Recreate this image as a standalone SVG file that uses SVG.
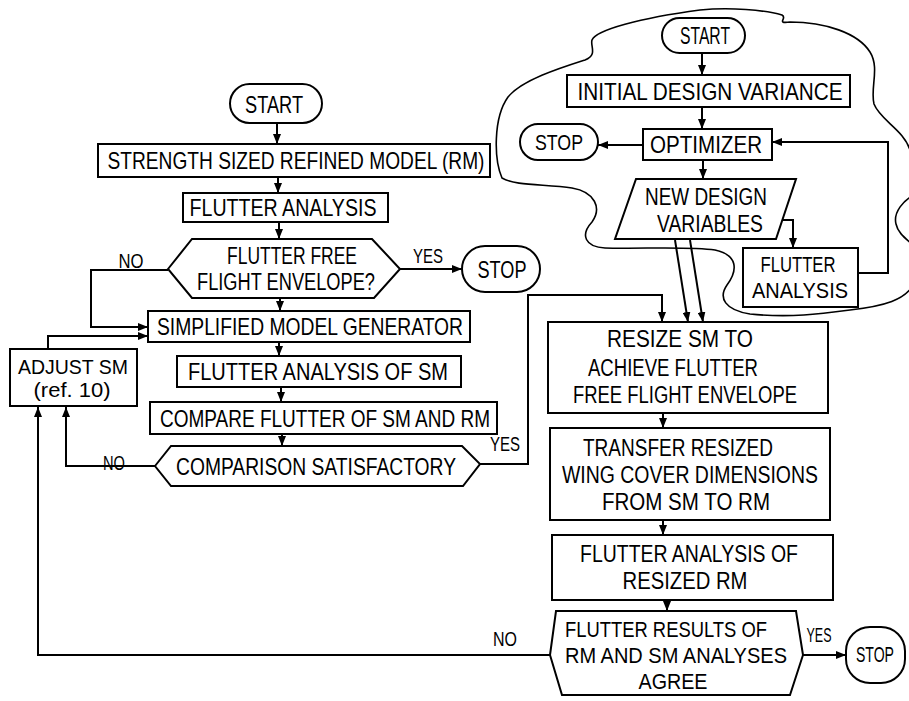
<svg xmlns="http://www.w3.org/2000/svg" width="909" height="701" viewBox="0 0 909 701">
<defs>
<marker id="ah" markerWidth="10" markerHeight="8" refX="10" refY="4" orient="auto" markerUnits="userSpaceOnUse">
<path d="M0,0 L10,4 L0,8 z" fill="#000"/>
</marker>
<style>
.b{fill:#fff;stroke:#000;stroke-width:2}
.c{fill:none;stroke:#000;stroke-width:2;marker-end:url(#ah)}
.cl{fill:none;stroke:#000;stroke-width:1.6}
text{font-family:"Liberation Sans",Arial,sans-serif;font-size:24px;fill:#000;text-anchor:middle}
.m{font-size:23px}
.r{font-size:22px}
.s{font-size:21px}
.a{font-size:20px}
</style>
</defs>
<rect width="909" height="701" fill="#fff"/>

<g id="cloud-boundary">
<path class="cl" d="M502,178 C494,160 493,118 508,97 C522,80 560,68 585,60 C598,55 590,46 592,40 C596,30 640,18 700,10 C730,7 765,10 782,15 C788,18 775,24 790,22 C825,22 858,33 870,52 C880,68 870,88 874,104 C880,120 904,130 910,150 L914,195 C904,200 893,212 896,224 C898,234 908,240 914,246 L914,284 C905,300 885,306 850,310 C820,314 790,318 750,314 C725,310 718,298 727,285 C738,270 738,255 715,250 C690,246 640,249 605,248 C585,247 580,235 592,222 C602,208 595,192 572,188 C545,184 515,186 502,178 Z"/>
</g>

<g id="connectors">
<path class="c" d="M277,123 V144"/>
<path class="c" d="M278,177 V193"/>
<path class="c" d="M279,222 V239"/>
<path class="c" d="M400,269 H462"/>
<path class="c" d="M168,270 H91 V327 H148"/>
<path class="c" d="M48,349 V336 H148"/>
<path class="c" d="M280,298 V311"/>
<path class="c" d="M279,342 V356"/>
<path class="c" d="M281,387 V402"/>
<path class="c" d="M282,434 V446"/>
<path class="c" d="M155,466 H66 V407"/>
<path class="c" d="M480,464 H528 V295 H662 V322"/>
<path class="c" d="M550,655 H38 V407"/>
<path class="c" d="M803,655 H846"/>
<path class="c" d="M702,53 V75"/>
<path class="c" d="M702,107 V129"/>
<path class="c" d="M643,145 H598"/>
<path class="c" d="M703,160 V179"/>
<path class="c" d="M782,220 H793 V248"/>
<path class="c" d="M858,273 H888 V142 H772"/>
<path class="c" d="M675,240 L688,322"/>
<path class="c" d="M690,240 L703,322"/>
<path class="c" d="M663,413 V428"/>
<path class="c" d="M663,520 V535"/>
<path class="c" d="M667,600 V611"/>
</g>

<g id="start1">
<rect class="b" x="230" y="84" width="92" height="39" rx="19.5"/>
<text x="274" y="113" textLength="58" lengthAdjust="spacingAndGlyphs">START</text>
</g>
<g id="strength-sized-rm">
<rect class="b" x="98" y="144" width="392" height="33"/>
<text x="296" y="169" textLength="377" lengthAdjust="spacingAndGlyphs">STRENGTH SIZED REFINED MODEL (RM)</text>
</g>
<g id="flutter-analysis-1">
<rect class="b" x="183" y="193" width="205" height="29"/>
<text x="283" y="216" textLength="187" lengthAdjust="spacingAndGlyphs">FLUTTER ANALYSIS</text>
</g>
<g id="decision-flutter-free">
<polygon class="b" points="168,269 192,239 372,239 400,269 374,298 192,298"/>
<text class="m" x="292" y="264" textLength="130" lengthAdjust="spacingAndGlyphs">FLUTTER FREE</text>
<text class="m" x="286" y="290" textLength="178" lengthAdjust="spacingAndGlyphs">FLIGHT ENVELOPE?</text>
</g>
<g id="label-no-1"><text class="s" x="131" y="268" textLength="25" lengthAdjust="spacingAndGlyphs">NO</text></g>
<g id="label-yes-1"><text class="s" x="428" y="263" textLength="30" lengthAdjust="spacingAndGlyphs">YES</text></g>
<g id="stop1">
<rect class="b" x="462" y="246" width="78" height="46" rx="23"/>
<text x="502" y="278" textLength="49" lengthAdjust="spacingAndGlyphs">STOP</text>
</g>
<g id="simplified-model-generator">
<rect class="b" x="148" y="311" width="322" height="31"/>
<text x="310" y="335" textLength="306" lengthAdjust="spacingAndGlyphs">SIMPLIFIED MODEL GENERATOR</text>
</g>
<g id="adjust-sm">
<rect class="b" x="10" y="349" width="127" height="57"/>
<text class="a" x="73" y="374" textLength="110" lengthAdjust="spacingAndGlyphs">ADJUST SM</text>
<text class="a" x="72" y="397" textLength="77" lengthAdjust="spacingAndGlyphs">(ref. 10)</text>
</g>
<g id="flutter-analysis-sm">
<rect class="b" x="177" y="356" width="284" height="31"/>
<text x="318" y="380" textLength="260" lengthAdjust="spacingAndGlyphs">FLUTTER ANALYSIS OF SM</text>
</g>
<g id="compare-flutter">
<rect class="b" x="150" y="402" width="347" height="32"/>
<text x="325" y="427" textLength="330" lengthAdjust="spacingAndGlyphs">COMPARE FLUTTER OF SM AND RM</text>
</g>
<g id="decision-comparison">
<polygon class="b" points="155,466 171,446 462,446 480,464 463,486 171,486"/>
<text x="316" y="475" textLength="280" lengthAdjust="spacingAndGlyphs">COMPARISON SATISFACTORY</text>
</g>
<g id="label-no-2"><text class="s" x="114" y="470" textLength="22" lengthAdjust="spacingAndGlyphs">NO</text></g>
<g id="label-yes-2"><text class="s" x="505" y="451" textLength="30" lengthAdjust="spacingAndGlyphs">YES</text></g>

<g id="start2">
<rect class="b" x="662" y="18" width="83" height="35" rx="17.5"/>
<text x="705" y="44" textLength="50" lengthAdjust="spacingAndGlyphs">START</text>
</g>
<g id="initial-design-variance">
<rect class="b" x="567" y="75" width="283" height="32"/>
<text x="710" y="100" textLength="265" lengthAdjust="spacingAndGlyphs">INITIAL DESIGN VARIANCE</text>
</g>
<g id="optimizer">
<rect class="b" x="643" y="129" width="129" height="31"/>
<text x="706" y="153" textLength="112" lengthAdjust="spacingAndGlyphs">OPTIMIZER</text>
</g>
<g id="stop2">
<rect class="b" x="520" y="124" width="78" height="36" rx="18"/>
<text class="r" x="559" y="150" textLength="48" lengthAdjust="spacingAndGlyphs">STOP</text>
</g>
<g id="new-design-variables">
<polygon class="b" points="636,179 796,179 776,239 615,239"/>
<text class="m" x="706" y="205" textLength="122" lengthAdjust="spacingAndGlyphs">NEW DESIGN</text>
<text class="m" x="710" y="232" textLength="106" lengthAdjust="spacingAndGlyphs">VARIABLES</text>
</g>
<g id="flutter-analysis-2">
<rect class="b" x="743" y="248" width="115" height="59"/>
<text class="r" x="798" y="272" textLength="75" lengthAdjust="spacingAndGlyphs">FLUTTER</text>
<text class="r" x="800" y="298" textLength="96" lengthAdjust="spacingAndGlyphs">ANALYSIS</text>
</g>

<g id="resize-sm">
<rect class="b" x="548" y="322" width="280" height="91"/>
<text class="m" x="680" y="347" textLength="146" lengthAdjust="spacingAndGlyphs">RESIZE SM TO</text>
<text class="m" x="673" y="376" textLength="170" lengthAdjust="spacingAndGlyphs">ACHIEVE FLUTTER</text>
<text class="m" x="685" y="403" textLength="224" lengthAdjust="spacingAndGlyphs">FREE FLIGHT ENVELOPE</text>
</g>
<g id="transfer-resized">
<rect class="b" x="550" y="428" width="280" height="92"/>
<text class="m" x="678" y="456" textLength="190" lengthAdjust="spacingAndGlyphs">TRANSFER RESIZED</text>
<text class="m" x="690" y="483" textLength="256" lengthAdjust="spacingAndGlyphs">WING COVER DIMENSIONS</text>
<text class="m" x="686" y="510" textLength="168" lengthAdjust="spacingAndGlyphs">FROM SM TO RM</text>
</g>
<g id="flutter-analysis-resized-rm">
<rect class="b" x="552" y="535" width="281" height="65"/>
<text class="m" x="689" y="562" textLength="218" lengthAdjust="spacingAndGlyphs">FLUTTER ANALYSIS OF</text>
<text class="m" x="685" y="589" textLength="125" lengthAdjust="spacingAndGlyphs">RESIZED RM</text>
</g>
<g id="decision-results-agree">
<polygon class="b" points="556,611 796,611 803,655 790,695 562,695 550,655"/>
<text class="r" x="666" y="637" textLength="202" lengthAdjust="spacingAndGlyphs">FLUTTER RESULTS OF</text>
<text class="r" x="676" y="663" textLength="222" lengthAdjust="spacingAndGlyphs">RM AND SM ANALYSES</text>
<text class="r" x="673" y="689" textLength="69" lengthAdjust="spacingAndGlyphs">AGREE</text>
</g>
<g id="label-no-3"><text class="s" x="505" y="646" textLength="24" lengthAdjust="spacingAndGlyphs">NO</text></g>
<g id="label-yes-3"><text class="s" x="819" y="642" textLength="25" lengthAdjust="spacingAndGlyphs">YES</text></g>
<g id="stop3">
<rect class="b" x="846" y="627" width="59" height="56" rx="24"/>
<text class="r" x="875" y="662" textLength="38" lengthAdjust="spacingAndGlyphs">STOP</text>
</g>
</svg>
